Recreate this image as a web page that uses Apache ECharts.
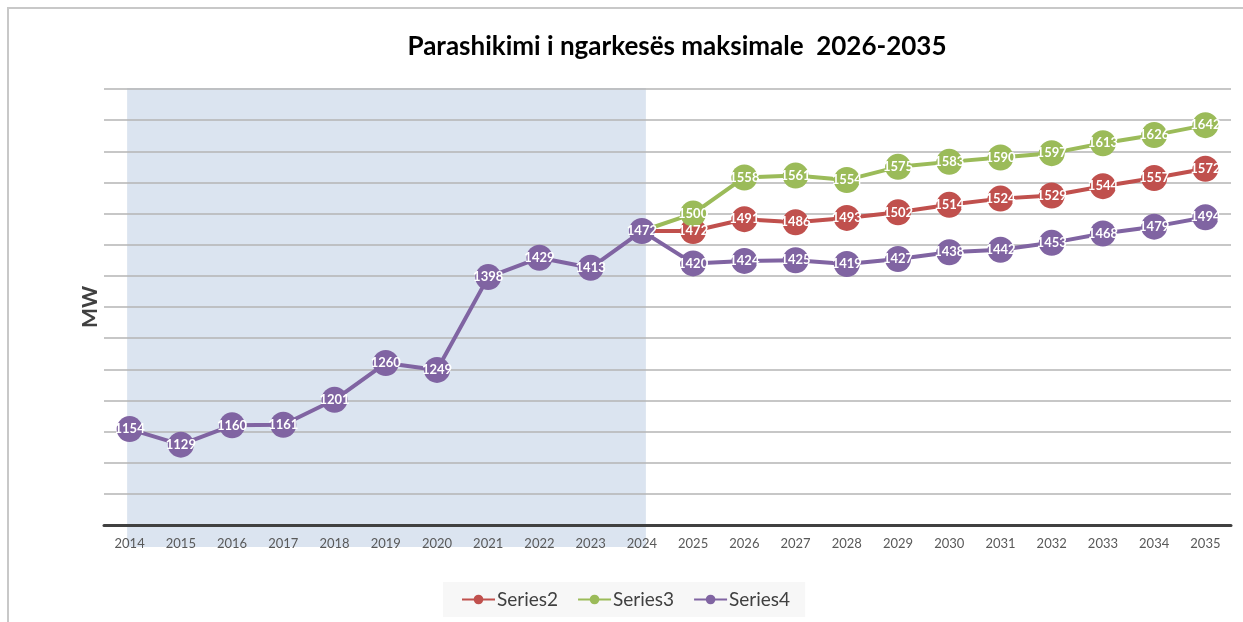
<!DOCTYPE html>
<html>
<head>
<meta charset="utf-8">
<script src="https://cdn.jsdelivr.net/npm/echarts@6/dist/echarts.min.js"></script>
<style>
  html, body { margin: 0; padding: 0; background: #fff; overflow: hidden; }
  #chart { position: absolute; left: 0; top: 0; width: 1243px; height: 622px; }
  #frame { position: absolute; left: 7px; top: 7px; width: 1300px; height: 700px;
           border: 2px solid #c8c8c8; pointer-events: none; }
</style>
</head>
<body>
<div id="chart"></div>
<div id="frame"></div>
<script>
// Years on the category axis
const years = ['2014','2015','2016','2017','2018','2019','2020','2021','2022','2023','2024',
               '2025','2026','2027','2028','2029','2030','2031','2032','2033','2034','2035'];

// Forecast scenarios (start from the last measured year, 2024)
const series2 = [null,null,null,null,null,null,null,null,null,null,1472,
                 1472,1491,1486,1493,1502,1514,1524,1529,1544,1557,1572];
const series3 = [null,null,null,null,null,null,null,null,null,null,1472,
                 1500,1558,1561,1554,1575,1583,1590,1597,1613,1626,1642];
const series4 = [1154,1129,1160,1161,1201,1260,1249,1398,1429,1413,1472,
                 1420,1424,1425,1419,1427,1438,1442,1453,1468,1479,1494];

// Historical period that gets the shaded band
const historyRange = ['2014', '2024'];

const yMin = 1000, yMax = 1700, yStep = 50;

const FONT = 'Lato, "Open Sans", "Noto Sans", sans-serif';

const chart = echarts.init(document.getElementById('chart'), null, { renderer: 'canvas' });

// The forecast lines share their starting point with the measured series,
// so their own marker and label at that year are left out.
const joinIndex = years.indexOf(historyRange[1]);
function forecastData(arr) {
  return arr.map(function (v, i) {
    return i === joinIndex ? { value: v, symbol: 'none', label: { show: false } } : v;
  });
}

function lineSeries(name, data, color) {
  return {
    name: name,
    type: 'line',
    data: data,
    z: 3,
    symbol: 'circle',
    symbolSize: 26,
    lineStyle: { color: color, width: 4 },
    itemStyle: { color: color },
    label: {
      show: true,
      position: 'inside',
      color: '#ffffff',
      fontFamily: FONT,
      fontWeight: 'bold',
      fontSize: 13
    },
    emphasis: { disabled: true },
    animation: false
  };
}

chart.setOption({
  animation: false,
  title: {
    text: 'Parashikimi i ngarkesës maksimale  2026-2035',
    left: 672,
    textAlign: 'center',
    top: 29,
    textStyle: { fontFamily: FONT, fontWeight: 'bold', fontSize: 26, color: '#000000' }
  },
  grid: { left: 104, right: 12, top: 89, bottom: 97 },
  legend: {
    data: ['Series2', 'Series3', 'Series4'],
    left: 443,
    top: 582,
    backgroundColor: '#f7f7f7',
    padding: [8, 15, 8, 18],
    itemGap: 19,
    itemWidth: 33,
    itemHeight: 12,
    textStyle: { fontFamily: FONT, fontSize: 19, color: '#404040', padding: [0, 0, 0, -3] }
  },
  xAxis: {
    type: 'category',
    data: years,
    boundaryGap: true,
    z: 1,
    axisLine: { show: true, lineStyle: { color: '#404040', width: 3 } },
    axisTick: { show: false },
    axisLabel: { color: '#595959', fontFamily: FONT, fontSize: 13, margin: 12 },
    splitLine: { show: false }
  },
  yAxis: {
    type: 'value',
    min: yMin,
    max: yMax,
    interval: yStep,
    z: 1,
    name: 'MW',
    nameLocation: 'middle',
    nameGap: 3,
    nameTextStyle: { fontFamily: FONT, fontWeight: 'bold', fontSize: 21, color: '#404040' },
    axisLine: { show: false },
    axisTick: { show: false },
    axisLabel: { show: false },
    splitLine: { show: true, lineStyle: { color: '#b5b5b5', width: 1.5 } }
  },
  series: [
    {
      // shaded band behind the historical years, running down under the year labels
      type: 'custom',
      z: 0,
      silent: true,
      clip: false,
      data: [[years.indexOf(historyRange[0]), yMin]],
      renderItem: function (params, api) {
        const p0 = api.coord([years.indexOf(historyRange[0]), yMax]);
        const p1 = api.coord([years.indexOf(historyRange[1]), yMin]);
        return {
          type: 'rect',
          shape: { x: p0[0] - 2.5, y: p0[1] - 1, width: p1[0] - p0[0] + 6.5, height: p1[1] - p0[1] + 23 },
          style: { fill: '#dbe4f0' }
        };
      }
    },
    lineSeries('Series2', forecastData(series2), '#c0504d'),
    lineSeries('Series3', forecastData(series3), '#9bbb59'),
    lineSeries('Series4', series4, '#8064a2')
  ]
});
</script>
</body>
</html>
